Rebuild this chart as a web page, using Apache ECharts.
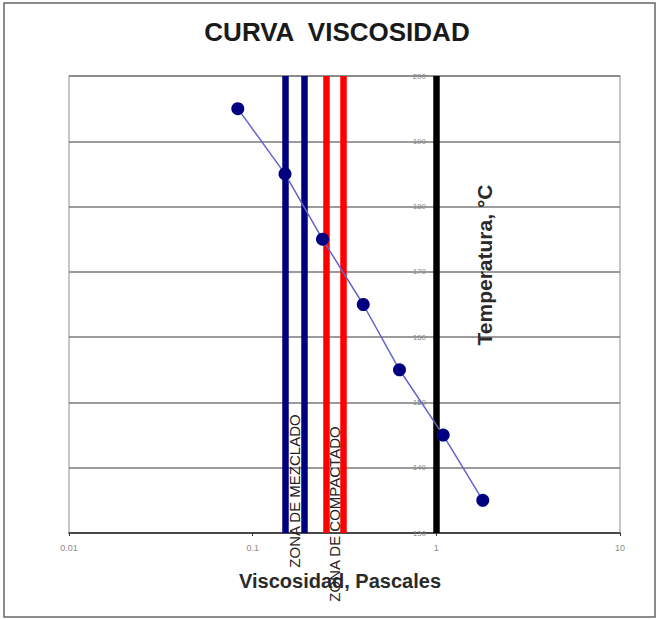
<!DOCTYPE html>
<html>
<head>
<meta charset="utf-8">
<script src="https://cdn.jsdelivr.net/npm/echarts@6/dist/echarts.min.js"></script>
<style>html,body{margin:0;padding:0;background:#fff}#c{width:657px;height:619px}</style>
</head>
<body>
<div id="c"></div>
<script>
const title = 'CURVA  VISCOSIDAD';
const xAxisName = 'Viscosidad, Pascales';
const yAxisName = 'Temperatura, °C';
const viscosity = [0.083, 0.15, 0.24, 0.40, 0.63, 1.09, 1.79];
const temperature = [195, 185, 175, 165, 155, 145, 135];
const mixingZone = [0.15, 0.19];
const compactionZone = [0.25, 0.31];
const referenceViscosity = [1];
const mixingLabel = 'ZONA DE MEZCLADO';
const compactionLabel = 'ZONA DE COMPACTADO';

const chart = echarts.init(document.getElementById('c'), null, {renderer: 'svg'});
const font = 'Arial, "Liberation Sans", sans-serif';
const points = viscosity.map((v, i) => [v, temperature[i]]);
const vline = (vals, color) => vals.map(v => ({xAxis: v, lineStyle: {color: color, width: 6.5, type: 'solid'}}));

chart.setOption({
  animation: false,
  grid: {left: 69, right: 37, top: 76, bottom: 86, show: true, borderColor: '#b4b4b4', borderWidth: 1.5},
  xAxis: {
    type: 'log', logBase: 10, min: 0.01, max: 10,
    axisLine: {lineStyle: {color: '#333', width: 1.5}},
    axisTick: {show: true, length: 3, lineStyle: {color: '#333'}},
    minorTick: {show: false},
    splitLine: {show: false},
    axisLabel: {fontSize: 9, color: '#8a8a8a', fontFamily: font, margin: 10}
  },
  yAxis: {
    type: 'value', min: 130, max: 200, interval: 10,
    offset: -367,
    axisLine: {show: false},
    axisTick: {show: false},
    axisLabel: {fontSize: 8, color: '#8a8a8a', fontFamily: font, margin: 10},
    splitLine: {show: true, lineStyle: {color: '#7a7a7a', width: 1.5}}
  },
  series: [
    {
      type: 'line', data: [], z: 1, silent: true,
      markLine: {
        silent: true, symbol: 'none', label: {show: false}, animation: false,
        data: [].concat(vline(mixingZone, '#00007f'), vline(compactionZone, '#ff0000'), vline(referenceViscosity, '#000000'))
      }
    },
    {
      type: 'line', data: points, z: 5,
      symbol: 'circle', symbolSize: 13,
      itemStyle: {color: '#000080'},
      lineStyle: {color: '#6464c8', width: 1.5}
    }
  ]
});

const mid = a => Math.sqrt(a[0] * a[1]);
const mx = chart.convertToPixel({xAxisIndex: 0}, mid(mixingZone));
const cx = chart.convertToPixel({xAxisIndex: 0}, mid(compactionZone));
const rot = (text, x, y, size, weight, color, ls) => ({
  type: 'text', x: x, y: y, rotation: Math.PI / 2, z: 10,
  style: {text: text, fontSize: size, fontWeight: weight, fill: color, fontFamily: font, align: 'center', verticalAlign: 'middle', letterSpacing: ls}
});
chart.setOption({
  graphic: [
    {type: 'rect', shape: {x: 4, y: 3, width: 651, height: 614}, style: {fill: 'none', stroke: '#666', lineWidth: 1.5}, z: 0},
    {type: 'text', x: 337, y: 32, z: 10, style: {text: title, fontSize: 26, fontWeight: 'bold', fill: '#1a1a1a', fontFamily: font, align: 'center', verticalAlign: 'middle', letterSpacing: 1}},
    {type: 'text', x: 340, y: 581, z: 10, style: {text: xAxisName, fontSize: 20, fontWeight: 'bold', fill: '#2a2a2a', fontFamily: font, align: 'center', verticalAlign: 'middle'}},
    rot(yAxisName, 484, 265, 21, 'bold', '#2a2a2a', 1),
    rot(mixingLabel, mx, 491, 15, 'normal', '#222', 0.5),
    rot(compactionLabel, cx, 514, 15, 'normal', '#222', 0.5)
  ]
});
</script>
</body>
</html>
